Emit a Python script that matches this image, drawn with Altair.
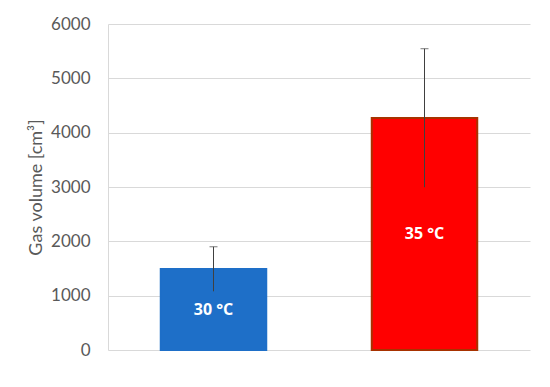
import altair as alt
import pandas as pd

categories = ["30 °C", "35 °C"]
values = [1490, 4270]
errors = [410, 1275]
colors = ["#1E6FC8", "#FF0000"]
strokes = ["#1E6FC8", "#A83200"]
y_ticks = [0, 1000, 2000, 3000, 4000, 5000, 6000]

df = pd.DataFrame({"cat": categories, "val": values, "err": errors,
                   "color": colors, "stroke": strokes})

base = alt.Chart(df).transform_calculate(
    lo="datum.val - datum.err", hi="datum.val + datum.err", mid="datum.val / 2"
)

x = alt.X("cat:N", sort=categories, axis=None,
          scale=alt.Scale(paddingInner=0.5, paddingOuter=0.25))

yaxis = alt.Axis(title="Gas volume [cm³]", values=y_ticks, format="d",
                 ticks=False, labelPadding=18, titlePadding=5,
                 labelFontSize=17, titleFontSize=18, labelFont="Lato", titleFont="Lato",
                 labelColor="#595959", titleColor="#595959", titleFontWeight="normal",
                 domainColor="#D9D9D9", gridColor="#D9D9D9")
yscale = alt.Scale(domain=[0, 6000])

def Y(field):
    return alt.Y(field, scale=yscale, axis=yaxis)

bars = base.mark_bar(strokeWidth=2).encode(
    x=x,
    y=Y("val:Q"),
    color=alt.Color("color:N", scale=None),
    stroke=alt.Stroke("stroke:N", scale=None),
)

rules = base.mark_rule(color="#404040", strokeWidth=1).encode(
    x=x, y=Y("lo:Q"), y2="hi:Q"
)
caps = base.mark_tick(color="#404040", size=8, thickness=1).encode(
    x=x, y=Y("hi:Q")
)
labels = base.mark_text(color="white", fontSize=16, fontWeight="bold", font="Open Sans").encode(
    x=x, y=Y("mid:Q"), text="cat:N"
)

chart = alt.layer(bars, rules, caps, labels).properties(
    width=422, height=326,
    autosize=alt.AutoSizeParams(type="none"),
    padding={"left": 100, "top": 16, "right": 12, "bottom": 21},
).configure_view(stroke=None)

chart.save("out.html", embed_options={"renderer": "svg", "actions": False})
